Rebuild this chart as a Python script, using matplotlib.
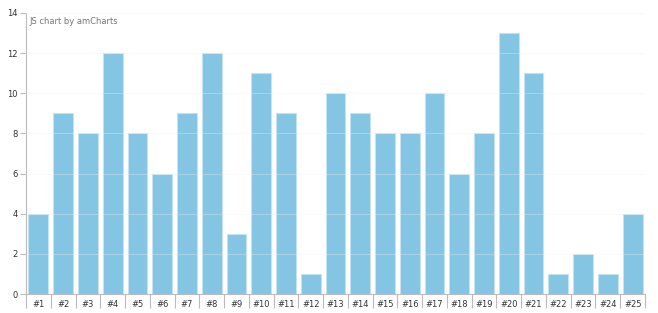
import matplotlib
matplotlib.use("Agg")
import matplotlib.pyplot as plt
import numpy as np

categories = ["#%d" % i for i in range(1, 26)]
values = [4, 9, 8, 12, 8, 6, 9, 12, 3, 11, 9, 1, 10, 9, 8, 8, 10, 6, 8, 13, 11, 1, 2, 1, 4]
yticks = [0, 2, 4, 6, 8, 10, 12, 14]

fig = plt.figure(figsize=(6.58, 3.13), dpi=100)
ax = fig.add_axes([26/658, 19/313, (645-26)/658, (294-13)/313])
x = np.arange(len(categories))
ax.bar(x, values, width=0.8, color="#84c5e3", edgecolor="#c4e3f1", linewidth=0.8, zorder=2)
ax.set_xlim(-0.5, len(categories)-0.5)
ax.set_ylim(0, 14)
ax.set_yticks(yticks)
ax.set_yticklabels([str(v) for v in yticks], fontsize=6, color="#333333")
ax.set_xticks(x)
ax.set_xticklabels(categories, fontsize=6, color="#333333")
ax.set_xticks(np.arange(-0.5, len(categories), 1), minor=True)
ax.tick_params(axis="x", which="major", length=0, pad=4)
ax.tick_params(axis="x", which="minor", length=10, color="#bbbbbb", width=0.8)
ax.tick_params(axis="y", length=4, color="#bbbbbb", width=0.8, pad=2)
for v in yticks[1:]:
    ax.axhline(v, color="#eeeeee", linewidth=0.5, zorder=3, alpha=0.5)
for s in ["top", "right"]:
    ax.spines[s].set_visible(False)
for s in ["left", "bottom"]:
    ax.spines[s].set_color("#bbbbbb")
    ax.spines[s].set_linewidth(0.8)
ax.text(0.005, 0.985, "JS chart by amCharts", transform=ax.transAxes, fontsize=6,
        color="#777777", va="top", ha="left")
fig.savefig("out.png", dpi=100)
